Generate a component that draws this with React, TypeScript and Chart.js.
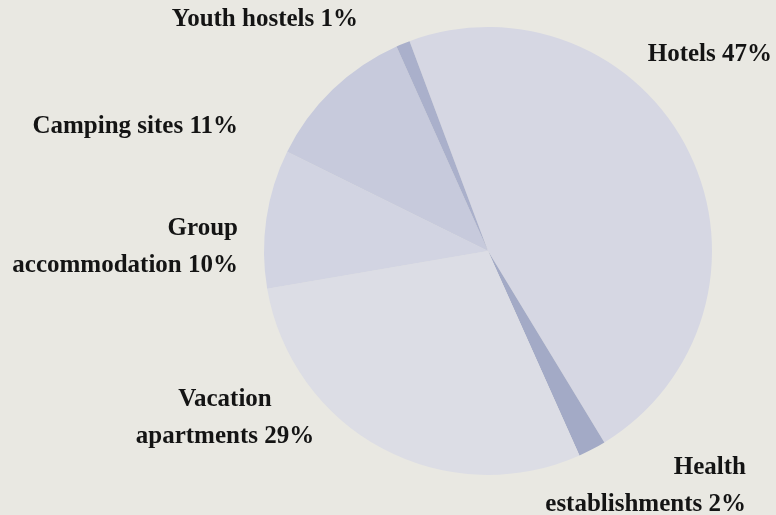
import React, { useEffect, useRef } from "react";
import { Chart, registerables } from "chart.js";

Chart.register(...registerables);

const categories = ["Hotels", "Health establishments", "Vacation apartments", "Group accommodation", "Camping sites", "Youth hostels"];
const shares = [47, 2, 29, 10, 11, 1];
const sliceColors = ["#d6d7e3", "#a3aac6", "#dcdde5", "#d2d4e2", "#c7cadc", "#aab0cb"];
const BG = "#e9e8e2";

// label text lines, with anchor layout (x, y of first line centre, alignment)
const labelLines = [
  ["Hotels 47%"],
  ["Health", "establishments 2%"],
  ["Vacation", "apartments 29%"],
  ["Group", "accommodation 10%"],
  ["Camping sites 11%"],
  ["Youth hostels 1%"],
];
const labelLayout = [
  { x: 772, y: 55, align: "right" },
  { x: 746, y: 468, align: "right" },
  { x: 225, y: 400, align: "center" },
  { x: 238, y: 229, align: "right" },
  { x: 238, y: 127, align: "right" },
  { x: 358, y: 20, align: "right" },
];

const labelPlugin = {
  id: "sliceLabels",
  beforeDraw(chart: any) {
    const { ctx, width, height } = chart;
    ctx.save();
    ctx.fillStyle = BG;
    ctx.fillRect(0, 0, width, height);
    ctx.restore();
  },
  afterDraw(chart: any) {
    const { ctx } = chart;
    ctx.save();
    ctx.fillStyle = "#141414";
    ctx.font = "bold 25px 'Liberation Serif', serif";
    ctx.textBaseline = "middle";
    labelLines.forEach((lines, i) => {
      const l = labelLayout[i];
      ctx.textAlign = l.align;
      lines.forEach((t, j) => ctx.fillText(t, l.x, l.y + j * 37));
    });
    ctx.restore();
  },
};

export default function App() {
  const ref = useRef<HTMLCanvasElement>(null);
  useEffect(() => {
    document.body.style.margin = "0";
    const chart = new Chart(ref.current!, {
      type: "pie",
      data: {
        labels: categories,
        datasets: [{ data: shares, backgroundColor: sliceColors, borderWidth: 0, hoverOffset: 0 }],
      },
      options: {
        animation: false,
        responsive: false,
        rotation: -20.5,
        layout: { padding: { top: 27, bottom: 40, left: 264, right: 64 } },
        plugins: { legend: { display: false }, tooltip: { enabled: false } },
      },
      plugins: [labelPlugin],
    });
    return () => chart.destroy();
  }, []);
  return (
    <div style={{ width: 776, height: 515, background: BG }}>
      <canvas ref={ref} width={776} height={515} style={{ display: "block" }} />
    </div>
  );
}
